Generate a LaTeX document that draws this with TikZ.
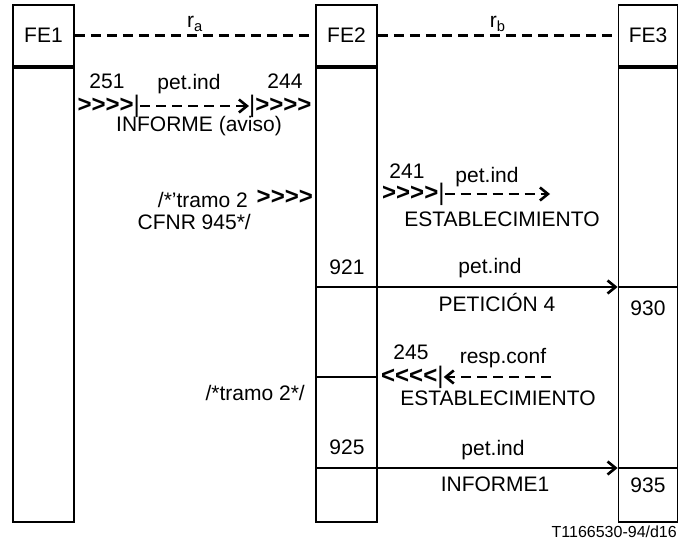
\documentclass[tikz,border=0pt]{standalone}
\usepackage{fontspec}
\setmainfont{Liberation Sans}
\usetikzlibrary{arrows.meta,positioning}

\newcommand{\lbl}{\fontsize{21}{25}\selectfont}
\newcommand{\chev}{>{}>{}>{}>}
\newcommand{\vehc}{<{}<{}<{}<}
\newcommand{\vbar}{{\mdseries|}}

\tikzset{
  fe/.style={draw,line width=1.8pt,minimum width=61pt,minimum height=61pt,inner sep=0pt,font=\lbl},
  febody/.style={draw,line width=1.8pt,minimum width=61pt,minimum height=454pt,inner sep=0pt},
  txt/.style={inner sep=0pt,font=\lbl},
  chv/.style={inner sep=0pt,font=\fontsize{24}{28}\selectfont\bfseries},
  rel/.style={line width=2.6pt,dash pattern=on 10pt off 6pt},
  divl/.style={line width=2.6pt},
  msg/.style={line width=2.6pt,dash pattern=on 10pt off 6pt,-{Straight Barb[length=8pt,width=13pt]}},
  sig/.style={line width=2.6pt,-{Straight Barb[length=8pt,width=13pt]}},
}

\begin{document}
\begin{tikzpicture}[x=1pt,y=-1pt]
  \useasboundingbox (0,0) rectangle (680,544);

  % Functional entities
  \node[fe] (fe1) at (43.5,35.5) {FE1};
  \node[fe] (fe2) at (346.5,35.5) {FE2};
  \node[fe,minimum width=59pt] (fe3) at (648,35.5) {FE3};
  \node[febody,below=0pt of fe1] (fe1b) {};
  \node[febody,below=0pt of fe2] (fe2b) {};
  \node[febody,minimum width=59pt,below=0pt of fe3] (fe3b) {};

  % Relations
  \draw[rel] (fe1.east) -- node[txt,above=3pt] {r\textsubscript{a}} (fe2.west);
  \draw[rel] (fe2.east) -- node[txt,above=3pt] {r\textsubscript{b}} (fe3.west);

  % INFORME (aviso)
  \node[chv,anchor=east] (c1s) at (140,106) {\chev\vbar};
  \node[chv,anchor=west] (c1e) at (249,106) {\vbar\chev};
  \draw[msg] (c1s.east) -- (c1e.west);
  \node[txt] (n251) at (107,81) {251};
  \node[txt] (p1) at (189,84) {pet.ind};
  \node[txt] (n244) at (285,81) {244};
  \node[txt] (inf1) at (199,126) {INFORME (aviso)};

  % tramo 2 CFNR 945
  \node[chv,anchor=east] (c2) at (313,197) {\chev};
  \node[txt,anchor=east] (t2a) at (248,200) {/*'tramo 2};
  \node[txt,anchor=east] (t2b) at (251,222) {CFNR 945*/};

  % ESTABLECIMIENTO pet.ind
  \node[chv,anchor=west] (c3) at (382,194) {\chev\vbar};
  \coordinate (e3) at (550,194);
  \draw[msg] (c3.east) -- (e3);
  \node[txt] (n241) at (407,171) {241};
  \node[txt] (p3) at (487,177) {pet.ind};
  \node[txt] (est3) at (502,219) {ESTABLECIMIENTO};

  % PETICION 4
  \coordinate (s4) at (fe2b.west |- 0,287);
  \draw[divl] (s4) -- (fe2b.east |- s4);
  \draw[sig] (fe2b.east |- s4) -- (fe3b.west |- s4);
  \draw[divl] (fe3b.west |- s4) -- (fe3b.east |- s4);
  \node[txt] (n921) at (347,267) {921};
  \node[txt] (p4) at (490,268) {pet.ind};
  \node[txt] (pet4) at (497,302) {PETICIÓN 4};
  \node[txt] (n930) at (648,308) {930};

  % ESTABLECIMIENTO resp.conf
  \coordinate (s5) at (fe2b.west |- 0,377);
  \draw[divl] (s5) -- (fe2b.east |- s5);
  \node[chv,anchor=west] (c5) at (381,377) {\vehc\vbar};
  \coordinate (e5) at (551,377);
  \draw[msg] (e5) -- (c5.east);
  \node[txt] (n245) at (411,352) {245};
  \node[txt] (r5) at (503,358) {resp.conf};
  \node[txt] (est5) at (498,398) {ESTABLECIMIENTO};
  \node[txt,anchor=east] (t5) at (305,393) {/*tramo 2*/};

  % INFORME1
  \coordinate (s6) at (fe2b.west |- 0,468);
  \draw[divl] (s6) -- (fe2b.east |- s6);
  \draw[sig] (fe2b.east |- s6) -- (fe3b.west |- s6);
  \draw[divl] (fe3b.west |- s6) -- (fe3b.east |- s6);
  \node[txt] (n925) at (347,447) {925};
  \node[txt] (p6) at (493,450) {pet.ind};
  \node[txt] (inf6) at (495,484) {INFORME1};
  \node[txt] (n935) at (648,485) {935};

  \node[inner sep=0pt,font=\fontsize{16}{19}\selectfont,anchor=east] (ref) at (677,532) {T1166530-94/d16};
\end{tikzpicture}
\end{document}
